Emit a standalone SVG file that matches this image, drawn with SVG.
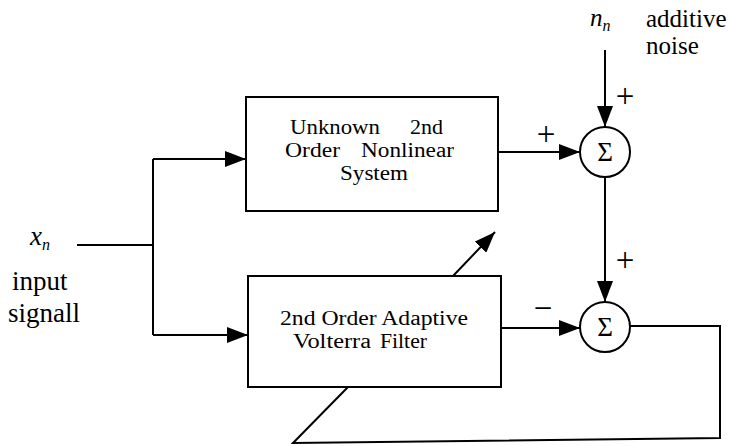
<svg xmlns="http://www.w3.org/2000/svg" width="729" height="446" viewBox="0 0 729 446">
  <style>
    .ln { fill: none; stroke: #000; stroke-width: 2; }
    .box { fill: #fff; stroke: #000; stroke-width: 2; }
    .t { font-family: "Liberation Serif", "Times New Roman", serif; font-size: 20px; fill: #000; }
    .big { font-size: 27px; }
    .mid { font-size: 25px; }
    .it { font-style: italic; }
    .sub { font-size: 16px; }
    .sig { font-family: "Liberation Serif", "Times New Roman", serif; font-size: 27px; fill: #000; text-anchor: middle; }
    .sgn { font-family: "Liberation Serif", "Times New Roman", serif; font-size: 33px; fill: #000; text-anchor: middle; }
  </style>
  <defs>
    <marker id="arr" markerWidth="21" markerHeight="16" refX="21" refY="8" orient="auto" markerUnits="userSpaceOnUse">
      <path d="M0,0 L21,8 L0,16 Z" fill="#000"/>
    </marker>
  </defs>

  <!-- connectors -->
  <g id="connectors">
    <!-- input split -->
    <path class="ln" d="M77,245 H153"/>
    <path class="ln" d="M153,159 V335"/>
    <path class="ln" d="M153,159 H246" marker-end="url(#arr)"/>
    <path class="ln" d="M153,335 H248" marker-end="url(#arr)"/>
    <!-- plant output to first summer -->
    <path class="ln" d="M498,152 H580" marker-end="url(#arr)"/>
    <!-- noise input -->
    <path class="ln" d="M605,50 V127" marker-end="url(#arr)"/>
    <!-- first summer to second summer -->
    <path class="ln" d="M605,177 V302" marker-end="url(#arr)"/>
    <!-- filter output to second summer -->
    <path class="ln" d="M501,328 H580" marker-end="url(#arr)"/>
    <!-- error feedback -->
    <path class="ln" d="M630,326 H720 V438 L293,443 L348,387"/>
    <!-- adaptation arrow -->
    <path class="ln" d="M453,276 L495,232" marker-end="url(#arr)"/>
    <!-- signs -->
    <text class="sgn" x="546" y="145">+</text>
    <text class="sgn" x="625" y="107">+</text>
    <text class="sgn" x="625" y="271">+</text>
    <text class="sgn" x="543" y="319">−</text>
  </g>

  <g id="plant">
    <rect class="box" x="246" y="97" width="252" height="114"/>
    <text class="t">
      <tspan x="290" y="134" textLength="90" lengthAdjust="spacingAndGlyphs">Unknown</tspan>
      <tspan x="410" y="134" textLength="33" lengthAdjust="spacingAndGlyphs">2nd</tspan>
      <tspan x="285" y="157" textLength="55" lengthAdjust="spacingAndGlyphs">Order</tspan>
      <tspan x="361" y="157" textLength="93" lengthAdjust="spacingAndGlyphs">Nonlinear</tspan>
      <tspan x="340" y="180" textLength="68" lengthAdjust="spacingAndGlyphs">System</tspan>
    </text>
  </g>

  <g id="filter">
    <rect class="box" x="248" y="276" width="253" height="111"/>
    <text class="t">
      <tspan x="280" y="325" textLength="188" lengthAdjust="spacingAndGlyphs">2nd Order Adaptive</tspan>
      <tspan x="293" y="348" textLength="78" lengthAdjust="spacingAndGlyphs">Volterra</tspan>
      <tspan x="380" y="348" textLength="47" lengthAdjust="spacingAndGlyphs">Filter</tspan>
    </text>
  </g>

  <g id="sum1">
    <circle class="box" cx="605" cy="152" r="25"/>
    <text class="sig" x="605" y="161">Σ</text>
  </g>

  <g id="sum2">
    <circle class="box" cx="605" cy="327" r="25"/>
    <text class="sig" x="605" y="336">Σ</text>
  </g>

  <g id="input">
    <text class="t big it" x="30" y="245">x<tspan class="sub" dy="5">n</tspan></text>
    <text class="t big">
      <tspan x="12" y="290">input</tspan>
      <tspan x="8" y="322">signall</tspan>
    </text>
  </g>

  <g id="noise">
    <text class="t mid it" x="590" y="26">n<tspan class="sub" dy="5">n</tspan></text>
    <text class="t mid">
      <tspan x="646" y="27">additive</tspan>
      <tspan x="646" y="54">noise</tspan>
    </text>
  </g>
</svg>
